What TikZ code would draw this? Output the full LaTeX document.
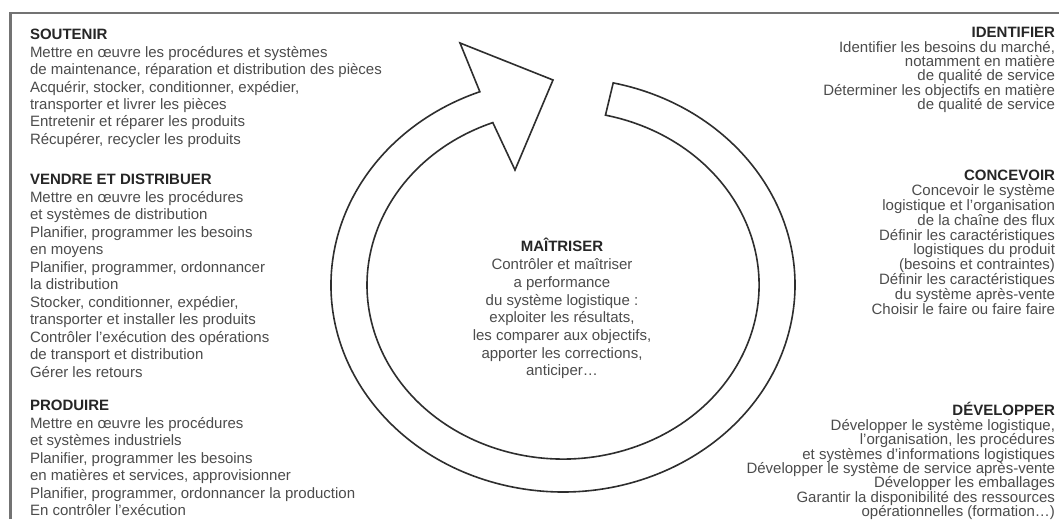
\documentclass[tikz,border=0pt]{standalone}
\usepackage{fontspec}
\setmainfont{Liberation Sans}
\lineskiplimit=-30pt
\definecolor{txtc}{gray}{0.30}
\definecolor{hdc}{gray}{0.15}
\definecolor{ringc}{gray}{0.18}
\definecolor{framec}{gray}{0.45}
\newcommand\hd[1]{{\color{hdc}\bfseries #1}}
\newcommand\lblk[2]{\parbox[t]{420pt}{\raggedright\fontsize{15}{#1}\selectfont\leavevmode #2}}
\newcommand\rblk[2]{\parbox[t]{420pt}{\raggedleft\fontsize{15}{#1}\selectfont\leavevmode #2}}
\newcommand\cblk[2]{\parbox[t]{300pt}{\centering\fontsize{15}{#1}\selectfont\leavevmode #2}}
\begin{document}
\begin{tikzpicture}[x=1pt,y=1pt,
  every node/.style={inner sep=0pt, outer sep=0pt, text=txtc},
  frameline/.style={draw=framec, line width=2.4pt},
  ringline/.style={draw=ringc, line width=1.6pt, line join=miter}]
\useasboundingbox (0,0) rectangle (1059,519);
\fill[white] (0,0) rectangle (1059,519);
% frame (cropped at right and bottom)
\coordinate (fbl) at (10.5,0);
\coordinate (ftl) at (10.5,505.7);
\coordinate (ftr) at (1059,505.7);
\draw[frameline] (fbl) -- (ftl) -- (ftr);

% ring arrow
\coordinate (tailout) at (613.2,436.1);
\coordinate (headback1) at (460,476);
\coordinate (headtip) at (553,439);
\coordinate (headback2) at (515,349);
\coordinate (joinin) at (492.8,396.4);
\draw[ringline] (tailout) arc[start angle=77.5, end angle=-249, x radius=232, y radius=207]
  -- (headback1) -- (headtip) -- (headback2) -- (joinin)
  arc[start angle=111, end angle=437.5, x radius=196, y radius=174] -- cycle;

% left column
\node[anchor=base west] (soutenir) at (30,479) {\lblk{17.4}{\hd{SOUTENIR}\\
Mettre en œuvre les procédures et systèmes\\
de maintenance, réparation et distribution des pièces\\
Acquérir, stocker, conditionner, expédier,\\
transporter et livrer les pièces\\
Entretenir et réparer les produits\\
Récupérer, recycler les produits}};

\node[anchor=base west] (vendre) at (30,334) {\lblk{17.5}{\hd{VENDRE ET DISTRIBUER}\\
Mettre en œuvre les procédures\\
et systèmes de distribution\\
Planifier, programmer les besoins\\
en moyens\\
Planifier, programmer, ordonnancer\\
la distribution\\
Stocker, conditionner, expédier,\\
transporter et installer les produits\\
Contrôler l'exécution des opérations\\
de transport et distribution\\
Gérer les retours}};

\node[anchor=base west] (produire) at (30,108) {\lblk{17.5}{\hd{PRODUIRE}\\
Mettre en œuvre les procédures\\
et systèmes industriels\\
Planifier, programmer les besoins\\
en matières et services, approvisionner\\
Planifier, programmer, ordonnancer la production\\
En contrôler l'exécution}};

% right column
\node[anchor=base east] (identifier) at (1055,481) {\rblk{14.3}{\hd{IDENTIFIER}\\
Identifier les besoins du marché,\\
notamment en matière\\
de qualité de service\\
Déterminer les objectifs en matière\\
de qualité de service}};

\node[anchor=base east] (concevoir) at (1055,338) {\rblk{14.8}{\hd{CONCEVOIR}\\
Concevoir le système\\
logistique et l'organisation\\
de la chaîne des flux\\
Définir les caractéristiques\\
logistiques du produit\\
(besoins et contraintes)\\
Définir les caractéristiques\\
du système après-vente\\
Choisir le faire ou faire faire}};

\node[anchor=base east] (developper) at (1055,103) {\rblk{14.4}{\hd{DÉVELOPPER}\\
Développer le système logistique,\\
l'organisation, les procédures\\
et systèmes d'informations logistiques\\
Développer le système de service après-vente\\
Développer les emballages\\
Garantir la disponibilité des ressources\\
opérationnelles (formation\dots)}};

% centre
\node[anchor=base] (maitriser) at (562,267) {\cblk{17.7}{\hd{MAÎTRISER}\\
Contrôler et maîtriser\\
a performance\\
du système logistique :\\
exploiter les résultats,\\
les comparer aux objectifs,\\
apporter les corrections,\\
anticiper\dots}};
\end{tikzpicture}
\end{document}
